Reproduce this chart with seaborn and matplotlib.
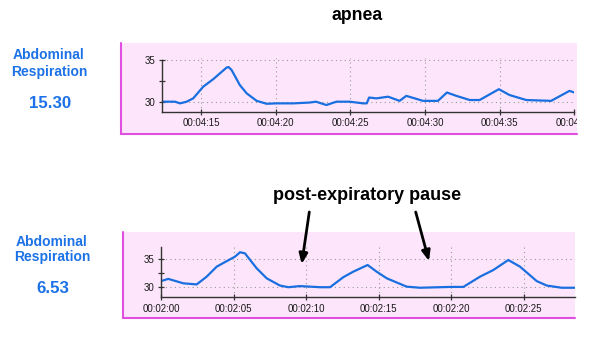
import numpy as np
import pandas as pd
import matplotlib
matplotlib.use("Agg")
import matplotlib.pyplot as plt
from matplotlib.patches import Rectangle
from matplotlib.transforms import Bbox, TransformedBbox
import seaborn as sns

# ---- data (seconds within minute offset, signal value) ----
top_t = [12.37, 13.26, 13.6, 14.04, 14.48, 15.15, 15.82, 16.27, 16.72, 16.85, 17.05, 17.6,
         18.06, 18.73, 19.4, 20.06, 21.2, 22.29, 22.7, 23.4, 24.07, 24.96, 25.86, 26.1, 26.26,
         26.75, 27.53, 28.3, 28.75, 29.87, 30.87, 31.47, 32.1, 33.0, 33.66, 34.95, 35.66, 36.78,
         38.45, 39.68, 40.0]
top_v = [30.0, 30.0, 29.8, 30.0, 30.4, 31.8, 32.7, 33.4, 34.1, 34.15, 33.8, 32.0,
         31.0, 30.1, 29.75, 29.8, 29.8, 29.9, 30.0, 29.6, 30.0, 30.0, 29.8, 29.8, 30.5,
         30.4, 30.6, 30.1, 30.7, 30.1, 30.1, 31.1, 30.7, 30.2, 30.2, 31.5, 30.8, 30.2,
         30.1, 31.3, 31.1]
top_ticks = [15, 20, 25, 30, 35, 40]
top_labels = ["00:04:15", "00:04:20", "00:04:25", "00:04:30", "00:04:35", "00:04:40"]

bot_t = [0.0, 0.5, 1.54, 2.46, 3.15, 3.84, 4.53, 5.1, 5.45, 5.79, 6.6, 7.29, 8.2, 8.78, 9.59,
         10.97, 11.66, 12.57, 13.26, 14.25, 14.87, 15.57, 16.94, 17.86, 19.93,
         20.85, 22.0, 22.92, 23.95, 24.76, 25.91, 26.6, 27.63, 28.55]
bot_v = [31.0, 31.4, 30.6, 30.4, 31.8, 33.6, 34.6, 35.4, 36.2, 36.0, 33.3, 31.5, 30.2, 29.9, 30.1,
         29.9, 29.9, 31.7, 32.7, 33.9, 32.7, 31.5, 30.0, 29.8, 29.95,
         29.95, 31.8, 33.0, 34.8, 33.6, 31.0, 30.2, 29.8, 29.8]
bot_ticks = [0, 5, 10, 15, 20, 25]
bot_labels = ["00:02:00", "00:02:05", "00:02:10", "00:02:15", "00:02:20", "00:02:25"]

y_ticks = [30, 35]
rates = ["15.30", "6.53"]

top_df = pd.DataFrame({"t": top_t, "v": top_v})
bot_df = pd.DataFrame({"t": bot_t, "v": bot_v})

sns.set_theme(style="white")
plt.rcParams["font.family"] = ["Liberation Sans", "DejaVu Sans"]

W, H = 600, 344
fig = plt.figure(figsize=(6.0, 3.44), dpi=100)

def fx(px):
    return px / W

def fy(py):
    return (H - py) / H

PINK = "#fde6fb"
MAG = "#e050e0"
BLUE = "#1c72e6"
LINE = "#1a6fe0"

panels = [
    dict(box=(121, 43, 577, 134), ax=(161.7, 57.5, 574.3, 111.7), df=top_df,
         xlim=(12.37, 40.0), ylim=(28.8, 35.3), ticks=top_ticks, labels=top_labels,
         spine_top=35.0),
    dict(box=(122.7, 232.3, 575, 318.3), ax=(161, 246.7, 575, 297.3), df=bot_df,
         xlim=(0, 28.55), ylim=(28.08, 37.2), ticks=bot_ticks, labels=bot_labels,
         spine_top=37.2),
]

for p in panels:
    x0, y0, x1, y1 = p["box"]
    rect = Rectangle((fx(x0), fy(y1)), fx(x1) - fx(x0), fy(y0) - fy(y1),
                     transform=fig.transFigure, facecolor=PINK, edgecolor="none", zorder=-2)
    fig.add_artist(rect)
    fig.add_artist(plt.Line2D([fx(x0), fx(x0)], [fy(y1), fy(y0)], color=MAG, lw=1.5,
                              transform=fig.transFigure, zorder=-1))
    fig.add_artist(plt.Line2D([fx(x0), fx(x1)], [fy(y1), fy(y1)], color=MAG, lw=1.5,
                              transform=fig.transFigure, zorder=-1))

    ax0, ay0, ax1, ay1 = p["ax"]
    ax = fig.add_axes([fx(ax0), fy(ay1), fx(ax1) - fx(ax0), fy(ay0) - fy(ay1)])
    ax.set_zorder(1)
    ax.set_facecolor("none")
    ax.patch.set_alpha(0)
    sns.lineplot(data=p["df"], x="t", y="v", ax=ax, color=LINE, lw=1.6)
    ax.set_xlim(*p["xlim"])
    ax.set_ylim(*p["ylim"])
    ax.set_xlabel("")
    ax.set_ylabel("")
    ax.set_xticks(p["ticks"])
    ax.set_xticklabels(p["labels"])
    ax.set_yticks(y_ticks)
    ax.set_yticks([32.5], minor=True)
    ax.tick_params(axis="both", which="major", direction="inout", length=5, width=0.9,
                   color="#333333", labelsize=7, labelcolor="#1a1a1a", pad=2,
                   bottom=True, left=True)
    ax.tick_params(axis="y", which="minor", direction="inout", length=4, width=0.9,
                   color="#333333", left=True)
    ax.grid(True, which="major", color="#999999", linestyle=(0, (1, 3)), lw=0.8)
    for s in ["top", "right"]:
        ax.spines[s].set_visible(False)
    for s in ["left", "bottom"]:
        ax.spines[s].set_visible(True)
        ax.spines[s].set_color("#333333")
        ax.spines[s].set_linewidth(1.0)
    ax.spines["left"].set_bounds(p["ylim"][0], p["spine_top"])
    clip = TransformedBbox(Bbox([[fx(x0), fy(y1)], [fx(x1), fy(y0)]]), fig.transFigure)
    for lbl in ax.get_xticklabels():
        lbl.set_clip_box(clip)
        lbl.set_clip_on(True)

for (cx, ya, yb, yc), rate in zip([(49, 55, 71.7, 103), (52, 241.7, 256.7, 288.3)], rates):
    fig.text(fx(cx), fy(ya), "Abdominal", color=BLUE, fontsize=10, fontweight="bold",
             ha="center", va="center")
    fig.text(fx(cx), fy(yb), "Respiration", color=BLUE, fontsize=10, fontweight="bold",
             ha="center", va="center")
    fig.text(fx(cx + 1), fy(yc), rate, color=BLUE, fontsize=12.2, fontweight="bold",
             ha="center", va="center")

fig.text(fx(357), fy(16), "apnea", color="black", fontsize=12.7, fontweight="bold",
         ha="center", va="center")
fig.text(fx(367), fy(196), "post-expiratory pause", color="black", fontsize=13,
         fontweight="bold", ha="center", va="center")

for (sx, sy), (ex, ey) in [((309.3, 212), (301.7, 264)), ((415.7, 212), (429, 261))]:
    fig.add_artist(matplotlib.patches.FancyArrowPatch(
        (fx(sx), fy(sy)), (fx(ex), fy(ey)), transform=fig.transFigure,
        arrowstyle="-|>,head_length=6,head_width=2.5", color="black", lw=2.0,
        shrinkA=0, shrinkB=0, zorder=5))

fig.savefig("out.png", dpi=100)
